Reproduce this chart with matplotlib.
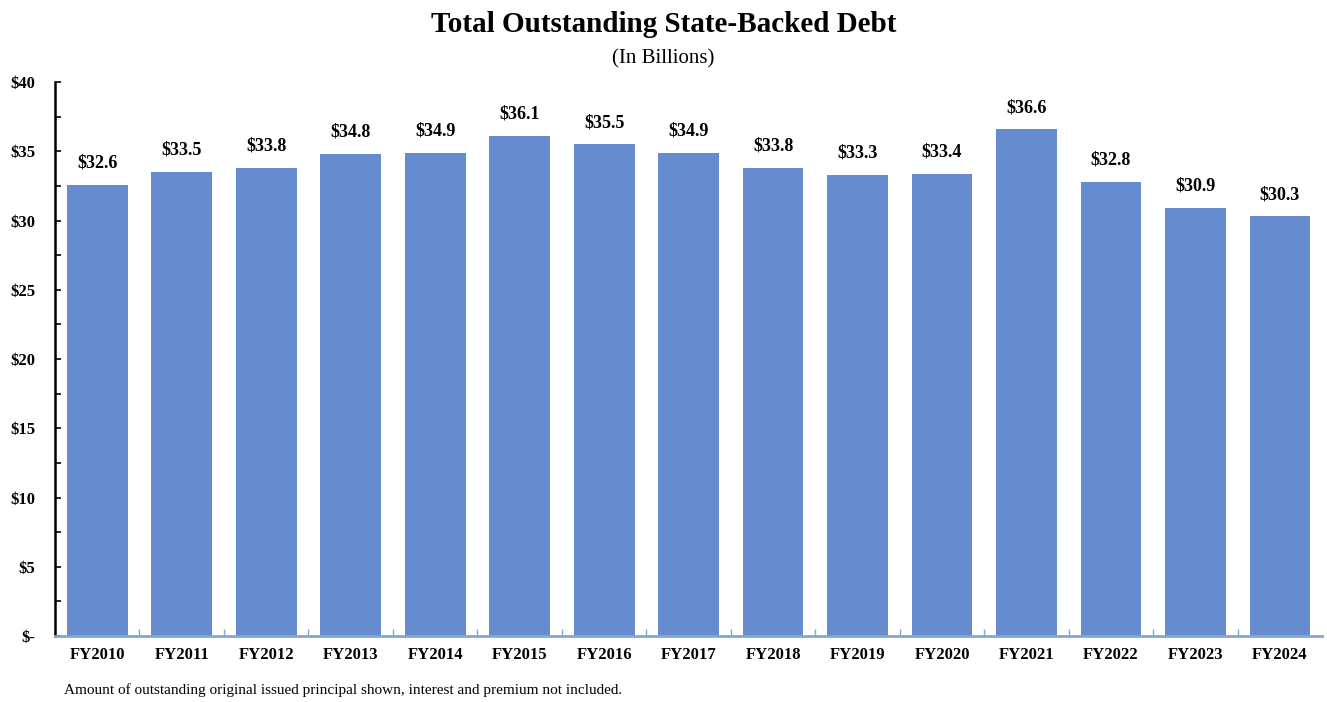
import matplotlib.pyplot as plt
from matplotlib.ticker import MultipleLocator

years = ['FY2010', 'FY2011', 'FY2012', 'FY2013', 'FY2014', 'FY2015', 'FY2016', 'FY2017',
         'FY2018', 'FY2019', 'FY2020', 'FY2021', 'FY2022', 'FY2023', 'FY2024']
debt = [32.6, 33.5, 33.8, 34.8, 34.9, 36.1, 35.5, 34.9, 33.8, 33.3, 33.4, 36.6, 32.8, 30.9, 30.3]
y_ticks = [0, 5, 10, 15, 20, 25, 30, 35, 40]
y_labels = ['$-', '$5', '$10', '$15', '$20', '$25', '$30', '$35', '$40']

plt.rcParams['font.family'] = ['Liberation Serif', 'DejaVu Serif']

fig = plt.figure(figsize=(13.27, 7.02), dpi=100)
ax = fig.add_axes([0.0414, 0.094, 0.955, 0.789])

x = range(len(years))
bars = ax.bar(x, debt, width=0.72, color='#668ccf', zorder=2)
for xi, v in zip(x, debt):
    ax.text(xi, v + 0.95, f'${v:.1f}', ha='center', va='bottom',
            fontsize=13, fontweight='bold')

ax.set_xlim(-0.5, len(years) - 0.5)
ax.set_ylim(0, 40)
ax.set_yticks(y_ticks)
ax.set_yticklabels(y_labels, fontsize=12, fontweight='bold')
ax.yaxis.set_minor_locator(MultipleLocator(2.5))
ax.tick_params(axis='y', which='both', direction='in', length=4, width=1.2, pad=14)

ax.set_xticks(list(x))
ax.set_xticklabels(years, fontsize=12, fontweight='bold')
ax.tick_params(axis='x', which='major', length=0, pad=8)
ax.set_xticks([i + 0.5 for i in range(len(years) - 1)], minor=True)
ax.tick_params(axis='x', which='minor', direction='in', length=5, color='#7fa8d8', width=1)

for s in ['top', 'right']:
    ax.spines[s].set_visible(False)
ax.spines['left'].set_linewidth(1.8)
ax.spines['bottom'].set_color('#7fa8d8')
ax.spines['bottom'].set_linewidth(2)

fig.text(0.5, 0.965, 'Total Outstanding State-Backed Debt', ha='center', va='center',
         fontsize=21, fontweight='bold')
fig.text(0.5, 0.916, '(In Billions)', ha='center', va='center', fontsize=15)
fig.text(0.048, 0.017, 'Amount of outstanding original issued principal shown, interest and premium not included.',
         ha='left', va='center', fontsize=11)

fig.savefig('out.png', dpi=100)
